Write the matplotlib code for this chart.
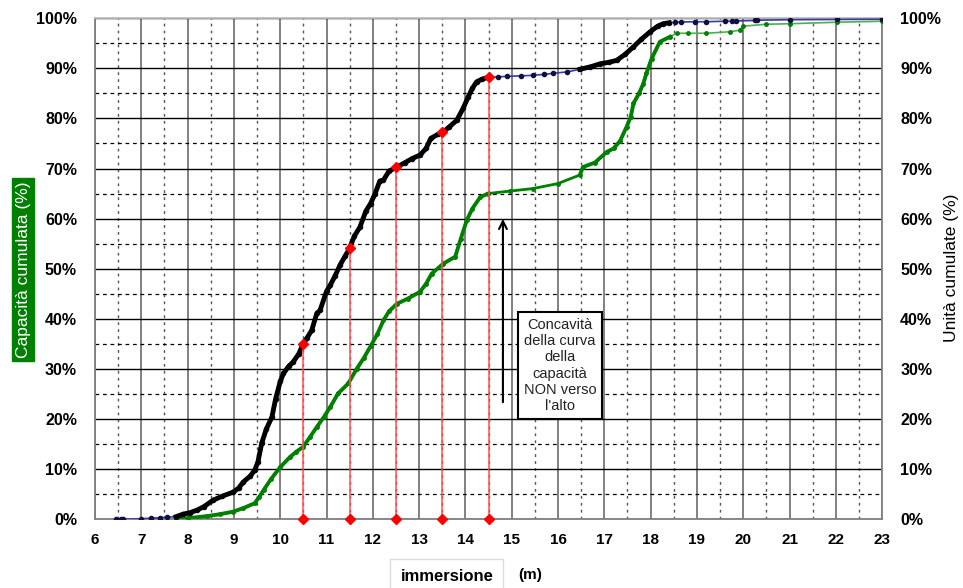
import numpy as np
import matplotlib
matplotlib.use("Agg")
from matplotlib import pyplot as plt
from matplotlib.ticker import MultipleLocator, FuncFormatter

plt.rcParams['font.family'] = ['Liberation Sans', 'DejaVu Sans']

# curva delle unita' cumulate (nera)
units_x = [6.45, 6.55, 6.6, 7.0, 7.2, 7.4, 7.55, 7.75, 7.9, 8.05, 8.2, 8.35, 8.55, 8.75,
           8.98, 9.1, 9.2, 9.35, 9.45, 9.52, 9.6, 9.7, 9.82, 9.9, 10.0, 10.07, 10.18,
           10.28, 10.4, 10.49, 10.58, 10.68, 10.79, 10.86, 11.0, 11.08, 11.18, 11.29,
           11.4, 11.49, 11.6, 11.72, 11.85, 11.95, 12.05, 12.15, 12.23, 12.35, 12.52,
           12.7, 12.85, 13.02, 13.15, 13.25, 13.4, 13.52, 13.65, 13.81, 13.95, 14.06,
           14.15, 14.24, 14.35, 14.49, 14.7, 14.9, 15.2, 15.46, 15.7, 15.9, 16.2, 16.47,
           16.7, 16.91, 17.1, 17.27, 17.45, 17.63, 17.8, 17.99, 18.15, 18.27, 18.4,
           18.53, 18.65, 18.95, 19.2, 19.6, 19.75, 19.85, 20.25, 20.3, 21.0, 22.02, 23.0]
units_y = [0, 0, 0, 0.1, 0.2, 0.3, 0.4, 0.5, 1.0, 1.3, 1.8, 2.5, 3.8, 4.6,
           5.4, 6.2, 7.4, 8.6, 9.8, 11.5, 15.2, 18, 20.4, 24, 27.5, 29.1, 30.5,
           31.4, 33, 34.9, 36.2, 37.7, 41.1, 41.7, 45.5, 46.7, 48.5, 50.7,
           52.5, 53.9, 56.5, 58.3, 61.5, 63, 65.0, 67.5, 67.7, 69.5, 70.3,
           71.2, 72, 72.7, 74, 76, 76.8, 77.3, 78.3, 79.6, 82, 84.3,
           86, 87.3, 87.8, 88.2, 88.3, 88.4, 88.5, 88.6, 88.8, 89.0, 89.3, 89.8,
           90.3, 90.9, 91.2, 91.6, 92.8, 94.3, 95.8, 97.3, 98.4, 98.9, 99.1,
           99.2, 99.25, 99.3, 99.3, 99.4, 99.4, 99.45, 99.55, 99.6, 99.7, 99.75, 99.8]

# curva della capacita' cumulata (verde)
cap_x = [7.75, 8.0, 8.41, 8.7, 8.98, 9.2, 9.45, 9.55, 9.64, 9.8, 10.0, 10.21, 10.35,
         10.49, 10.65, 10.79, 10.95, 11.08, 11.25, 11.47, 11.65, 11.8, 11.95, 12.1,
         12.23, 12.35, 12.52, 12.75, 13.02, 13.15, 13.27, 13.52, 13.78, 13.9, 14.03,
         14.15, 14.32, 14.49, 14.96, 15.46, 16.0, 16.47, 16.54, 16.8, 17.05, 17.2,
         17.34, 17.48, 17.57, 17.63, 17.75, 17.84, 17.91, 18.02, 18.2, 18.42, 18.56,
         18.8, 19.2, 19.71, 19.92, 19.99, 20.5, 21.0, 22.02, 23.0]
cap_y = [0, 0.2, 0.6, 1.0, 1.5, 2.2, 3.2, 4.5, 5.8, 8, 10.4, 12.4, 13.5,
         14.4, 16.5, 18.4, 20.5, 22.4, 25.1, 27.1, 30, 32.1, 34.5, 37,
         39.7, 41.5, 43.0, 44, 45.4, 47, 49.0, 51.0, 52.4, 56, 59.7,
         62, 64.3, 65.0, 65.5, 66.0, 67, 68.7, 70.3, 71.2, 73.3, 74,
         75.5, 78.3, 80.3, 83.0, 85, 86.9, 89.0, 91.9, 95.3, 96.3, 97.0,
         97.0, 97.0, 97.3, 97.6, 98.4, 98.8, 98.9, 99.2, 99.4]

# immersioni di riferimento (linee rosse)
drop_x = [10.5, 11.5, 12.5, 13.5, 14.5]

x_ticks = list(range(6, 24))
y_ticks = list(range(0, 101, 10))

units_x = np.array(units_x)
units_y = np.array(units_y)
cap_x = np.array(cap_x)
cap_y = np.array(cap_y)

fig = plt.figure(figsize=(9.63, 5.88), dpi=100)
ax = fig.add_axes([0.0987, 0.117, 0.8173, 0.852])

ax.set_xlim(6, 23)
ax.set_ylim(0, 100)

# griglia
ax.xaxis.set_major_locator(MultipleLocator(1))
ax.xaxis.set_minor_locator(MultipleLocator(0.5))
ax.yaxis.set_major_locator(MultipleLocator(10))
ax.yaxis.set_minor_locator(MultipleLocator(5))
ax.grid(which='major', axis='x', color='#777777', lw=1.3, ls='-')
ax.grid(which='minor', axis='x', color='#555555', lw=1.0, ls=(0, (2, 3)))
ax.grid(which='major', axis='y', color='black', lw=1.0, ls='-')
ax.grid(which='minor', axis='y', color='black', lw=0.9, ls=(0, (3, 3)))
ax.set_axisbelow(True)
for s in ax.spines.values():
    s.set_color('#808080')
    s.set_linewidth(1.3)
ax.spines['top'].set_color('#c0c0c0')

ax.set_xticks(x_ticks)
ax.set_xticklabels([str(v) for v in x_ticks], fontweight='bold', fontsize=11)
ax.set_yticks(y_ticks)
ax.yaxis.set_major_formatter(FuncFormatter(lambda v, p: '%d%%' % v))
for lab in ax.get_yticklabels():
    lab.set_fontweight('bold')
    lab.set_fontsize(11.5)
ax.tick_params(which='both', length=0)
ax.tick_params(axis='x', pad=10)
ax.tick_params(axis='y', pad=13)

# curva verde
sparse_c = (cap_x >= 14.45) & (cap_x <= 16.5)
thick_c = (cap_x <= 14.5) | ((cap_x >= 16.47) & (cap_x <= 18.45))
ax.plot(cap_x, cap_y, color='#4caf50', lw=1.2, marker='o', ms=2.5,
        mfc='green', mec='green', zorder=3)
ax.plot(cap_x[sparse_c], cap_y[sparse_c], color='green', lw=2, zorder=4)
ax.plot(cap_x[(cap_x <= 14.5)], cap_y[(cap_x <= 14.5)], color='green', lw=2.8, zorder=4)
mid_c = (cap_x >= 16.47) & (cap_x <= 18.45)
ax.plot(cap_x[mid_c], cap_y[mid_c], color='green', lw=2.8, zorder=4)

# curva nera
ax.plot(units_x, units_y, color='#3a3aa0', lw=1.2, marker='o', ms=3,
        mfc='#101040', mec='#101040', zorder=5)
dense1 = (units_x >= 7.7) & (units_x <= 14.5)
dense2 = (units_x >= 16.45) & (units_x <= 18.5)
ax.plot(units_x[dense1], units_y[dense1], color='black', lw=3.5, zorder=6)
ax.plot(units_x[dense2], units_y[dense2], color='black', lw=3.5, zorder=6)

# linee rosse
drop_y = np.interp(drop_x, units_x, units_y)
for dx, dy in zip(drop_x, drop_y):
    ax.plot([dx, dx], [0, dy], color='#ff5050', lw=1.1, zorder=7)
    ax.plot([dx, dx], [0, dy], ls='none', marker='D', ms=5, color='red',
            zorder=8, clip_on=False)

# freccia e commento
ax.annotate('', xy=(14.81, 60.5), xytext=(14.81, 22.8),
            arrowprops=dict(arrowstyle='->', color='black', lw=1.5,
                            mutation_scale=14), zorder=9)
ax.text(16.04, 30.7, "Concavità\ndella curva\ndella\ncapacità\nNON verso\nl'alto",
        ha='center', va='center', fontsize=10.5, linespacing=1.2, zorder=10,
        color='#222222',
        bbox=dict(boxstyle='square,pad=0.4', fc='white', ec='black', lw=1.5))

# asse destro
ax2 = ax.twinx()
ax2.set_ylim(0, 100)
ax2.set_yticks(y_ticks)
ax2.yaxis.set_major_formatter(FuncFormatter(lambda v, p: '%d%%' % v))
for lab in ax2.get_yticklabels():
    lab.set_fontweight('bold')
    lab.set_fontsize(11.5)
ax2.tick_params(length=0, pad=13)
for s in ax2.spines.values():
    s.set_visible(False)

# etichette assi
fig.text(0.024, 0.542, 'Capacità cumulata (%)', rotation=90, ha='center',
         va='center', color='white', fontsize=12.5,
         bbox=dict(boxstyle='square,pad=0.2', fc='green', ec='green'))
fig.text(0.988, 0.544, 'Unità cumulate (%)', rotation=90, ha='center',
         va='center', color='black', fontsize=12.5)
fig.text(0.464, 0.019, 'immersione', ha='center', va='center', fontsize=12,
         fontweight='bold',
         bbox=dict(boxstyle='square,pad=0.6', fc='white', ec='#dddddd'))
fig.text(0.551, 0.022, '(m)', ha='center', va='center', fontsize=11,
         fontweight='bold')

fig.savefig('out.png', dpi=100)
